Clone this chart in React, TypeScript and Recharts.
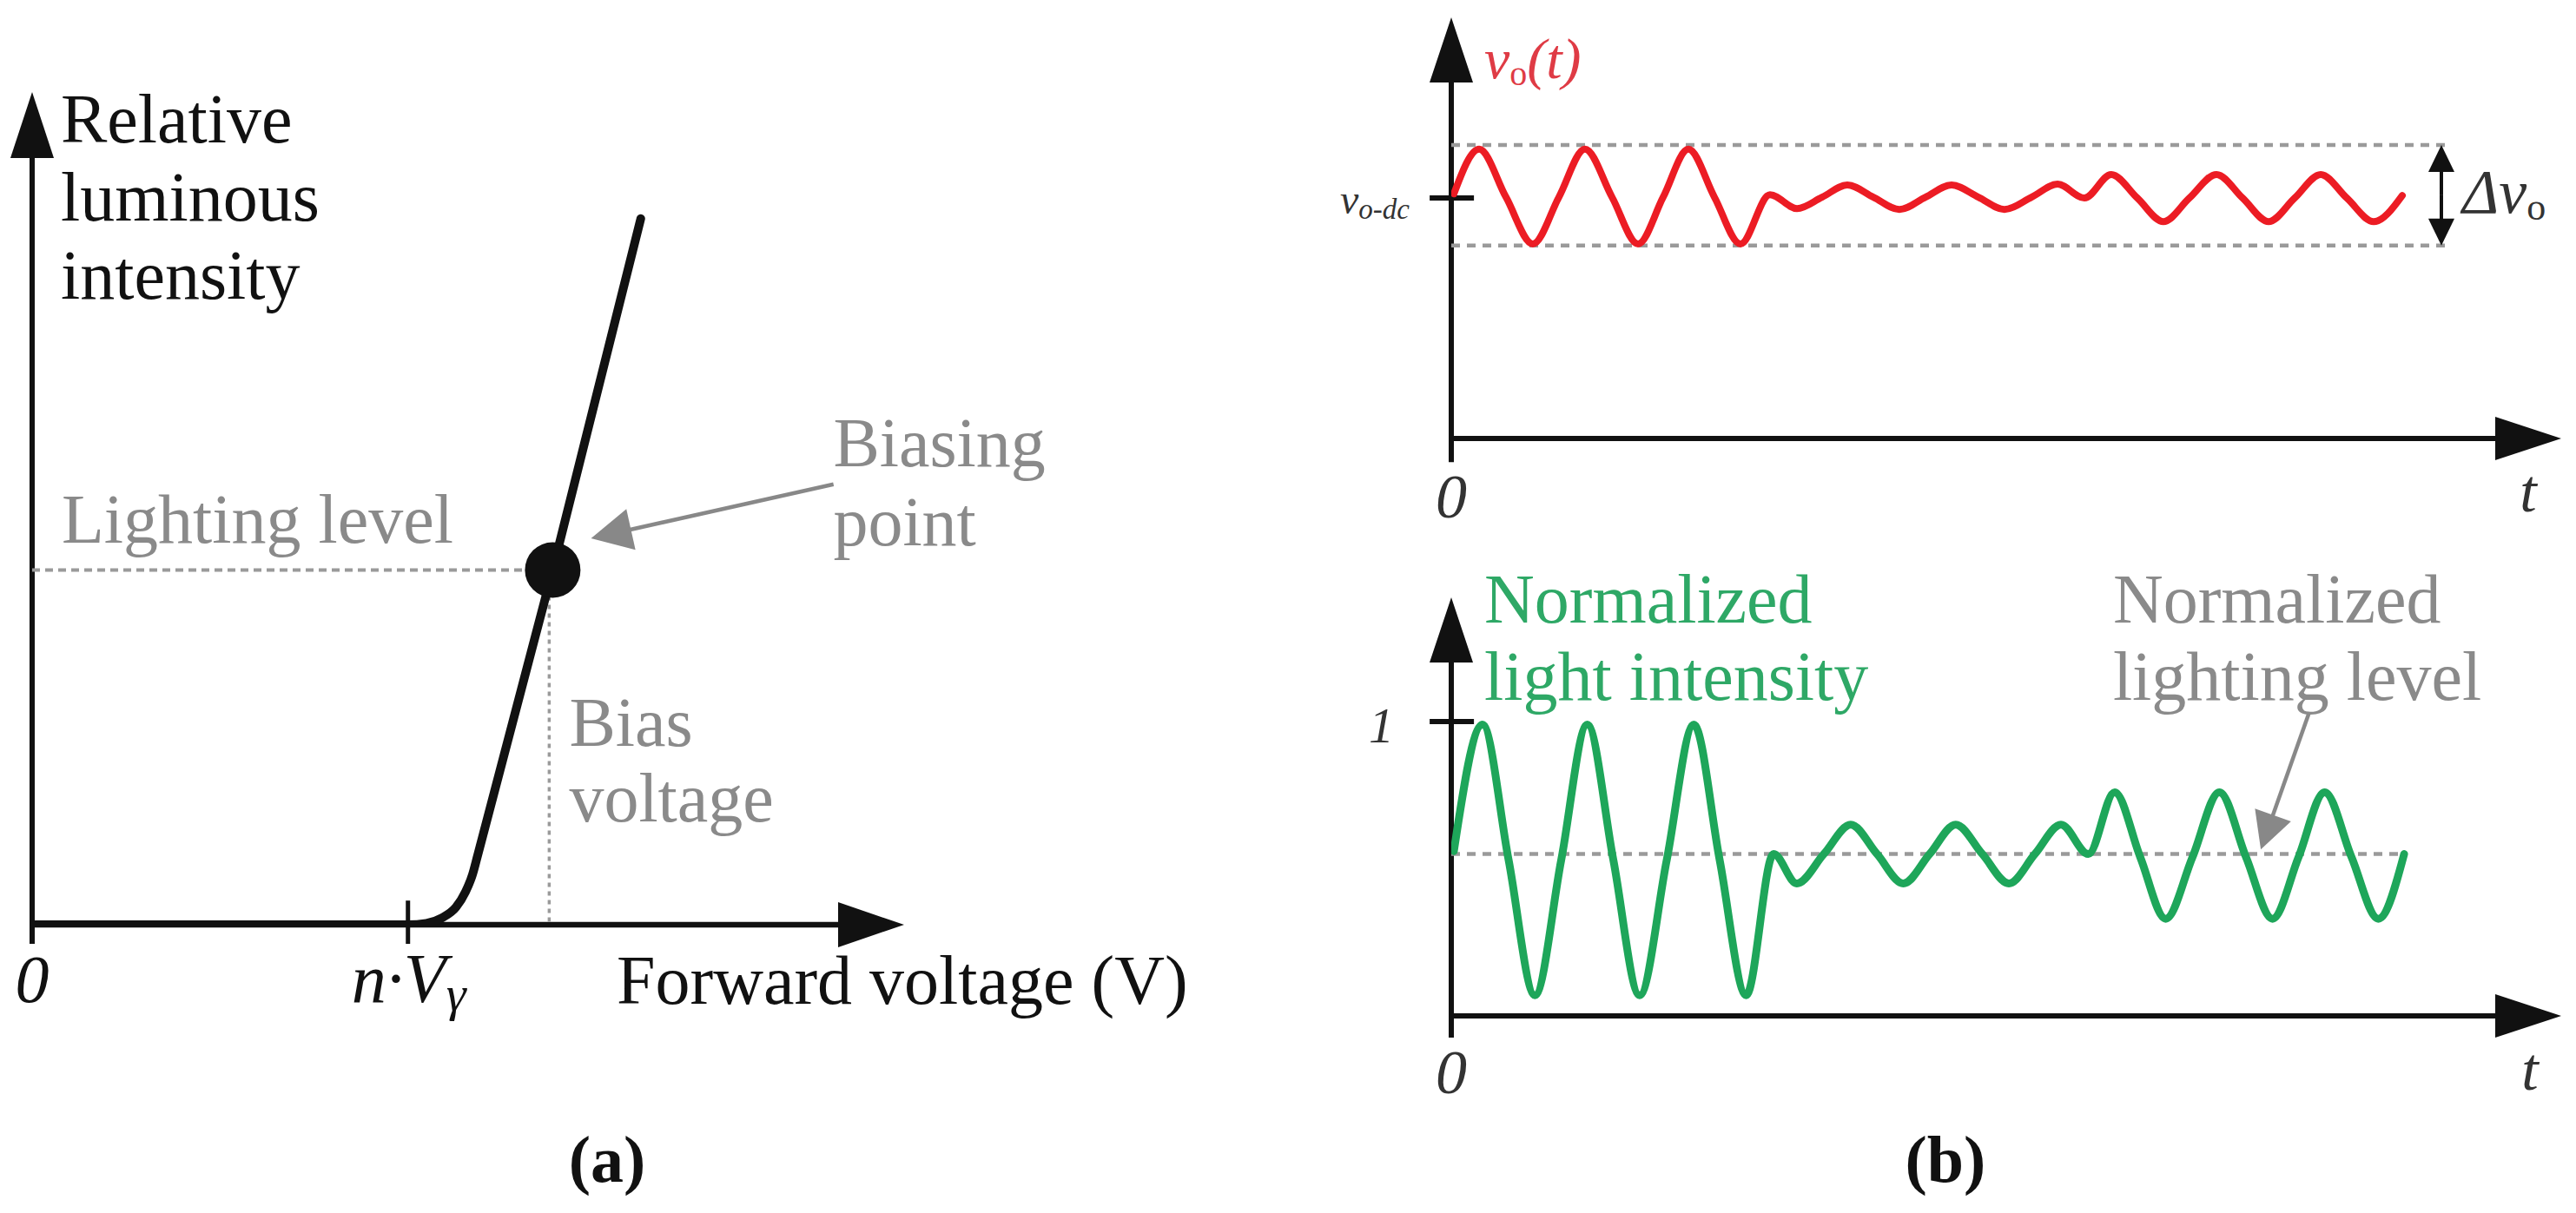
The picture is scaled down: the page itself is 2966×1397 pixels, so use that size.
import React from "react";
import { LineChart, Line, XAxis, YAxis, ReferenceLine, ReferenceDot } from "recharts";

// (a) LED curve: forward voltage vs relative luminous intensity (axis units 0-100)
const fwdVoltage = [0, 43.1, 45.2, 47.0, 48.6, 49.7, 50.5, 51.1, 59.7, 69.8];
const relIntensity = [0, 0, 0.17, 0.83, 2.09, 3.94, 6.03, 8.36, 42.6, 84.8];
const kneeVoltage = 43.1; // n·Vγ
const biasVoltage = 59.6;
const lightingLevel = 42.6;

// (b) top: output voltage v_o(t)
const tRed = [0.1, 1.07, 2.1, 3.13, 4.13, 5.13, 6.17, 7.17, 8.13, 9.1, 10.1, 11.1, 12.23, 13.27, 14.23, 15.2, 16.2, 17.2, 18.2, 19.2, 20.23, 21.23, 22.27, 23.27, 24.3, 25.33, 26.33, 27.33, 28.33, 29.37, 30.37, 31.37, 32.37, 33.37, 34.37, 35.4, 36.5];
const vOut = [5.81, 6.87, 5.73, 4.62, 5.73, 6.87, 5.73, 4.62, 5.73, 6.87, 5.73, 4.62, 5.79, 5.46, 5.73, 6.02, 5.73, 5.44, 5.73, 6.02, 5.73, 5.44, 5.73, 6.04, 5.71, 6.27, 5.71, 5.15, 5.71, 6.27, 5.71, 5.15, 5.71, 6.27, 5.71, 5.15, 5.77];
const vDc = 5.71;
const vHigh = 6.97;
const vLow = 4.58;

// (b) bottom: normalized light intensity
const tGreen = [0.1, 1.2, 2.2, 3.21, 4.22, 5.22, 6.22, 7.23, 8.27, 9.31, 10.3, 11.32, 12.37, 13.26, 14.3, 15.33, 16.34, 17.35, 18.36, 19.36, 20.38, 21.4, 22.4, 23.4, 24.45, 25.46, 26.44, 27.42, 28.45, 29.48, 30.5, 31.52, 32.52, 33.52, 34.55, 35.58, 36.57];
const normLight = [0.56, 0.99, 0.53, 0.07, 0.53, 0.99, 0.53, 0.07, 0.53, 0.99, 0.53, 0.07, 0.55, 0.45, 0.55, 0.65, 0.55, 0.45, 0.55, 0.65, 0.55, 0.45, 0.55, 0.65, 0.55, 0.76, 0.54, 0.33, 0.54, 0.76, 0.54, 0.33, 0.54, 0.76, 0.54, 0.33, 0.55];
const normLevel = 0.55;

const ledData = fwdVoltage.map((x, i) => ({ x, y: relIntensity[i] }));
const redData = tRed.map((x, i) => ({ x, y: vOut[i] }));
const greenData = tGreen.map((x, i) => ({ x, y: normLight[i] }));

const SERIF = '"Liberation Serif", "Times New Roman", serif';
const INK = "#111";
const GRAY = "#8a8a8a";
const DOT = "#9a9a9a";
const RED = "#ec1c24";
const RED_TXT = "#df3b45";
const GREEN = "#1ea65a";
const GREEN_TXT = "#2ea866";

type NoteStyle = { size: number; color?: string; italic?: boolean; bold?: boolean; anchor?: "start" | "middle" | "end" };

function note(x: number, y: number, dx: number, dy: number, body: React.ReactNode, s: NoteStyle) {
  return (
    <ReferenceDot
      x={x}
      y={y}
      r={0}
      ifOverflow="visible"
      shape={(p: any) => (
        <text
          x={p.cx + dx}
          y={p.cy + dy}
          fontFamily={SERIF}
          fontSize={s.size}
          fill={s.color ?? INK}
          fontStyle={s.italic ? "italic" : "normal"}
          fontWeight={s.bold ? 700 : 400}
          textAnchor={s.anchor ?? "start"}
        >
          {body}
        </text>
      )}
    />
  );
}

function arrowShape(color: string, width: number, len: number, half: number) {
  return (p: any) => {
    const { x1, y1, x2, y2 } = p;
    const L = Math.hypot(x2 - x1, y2 - y1) || 1;
    const ux = (x2 - x1) / L;
    const uy = (y2 - y1) / L;
    const bx = x2 - ux * len;
    const by = y2 - uy * len;
    return (
      <g>
        <line x1={x1} y1={y1} x2={bx + ux * 2} y2={by + uy * 2} stroke={color} strokeWidth={width} />
        <polygon points={`${x2},${y2} ${bx - uy * half},${by + ux * half} ${bx + uy * half},${by - ux * half}`} fill={color} />
      </g>
    );
  };
}

function arrow(from: [number, number], to: [number, number], color: string, width: number, len: number, half: number) {
  return (
    <ReferenceLine
      segment={[{ x: from[0], y: from[1] }, { x: to[0], y: to[1] }]}
      ifOverflow="visible"
      shape={arrowShape(color, width, len, half)}
    />
  );
}

function seg(from: [number, number], to: [number, number], color: string, width: number, dash?: string) {
  return (
    <ReferenceLine
      segment={[{ x: from[0], y: from[1] }, { x: to[0], y: to[1] }]}
      ifOverflow="visible"
      stroke={color}
      strokeWidth={width}
      strokeDasharray={dash}
    />
  );
}

function LedChart() {
  return (
    <LineChart width={1450} height={1397} data={ledData} margin={{ top: 106, right: 409, bottom: 332, left: 37 }}>
      <XAxis type="number" dataKey="x" domain={[0, 100]} allowDataOverflow hide />
      <YAxis type="number" domain={[0, 100]} allowDataOverflow hide />
      {arrow([0, -2.3], [0, 100], INK, 6, 76, 25)}
      {arrow([0, 0], [100, 0], INK, 6.5, 76, 26)}
      {seg([kneeVoltage, -2.3], [kneeVoltage, 2.9], INK, 5)}
      {seg([0, lightingLevel], [biasVoltage, lightingLevel], DOT, 4, "9 6")}
      {seg([biasVoltage - 0.3, lightingLevel], [biasVoltage - 0.3, 0], DOT, 3.5, "5 5")}
      <Line
        type="monotone"
        dataKey="y"
        stroke={INK}
        strokeWidth={10}
        strokeLinecap="round"
        dot={false}
        isAnimationActive={false}
      />
      <ReferenceDot x={biasVoltage + 0.1} y={lightingLevel} r={32} fill={INK} stroke="none" ifOverflow="visible" />
      {arrow([91.9, 52.9], [64.1, 46.4], "#888", 4.5, 47, 24)}
      {note(0, 100, 33, 58, "Relative", { size: 80 })}
      {note(0, 100, 33, 148, "luminous", { size: 80 })}
      {note(0, 100, 33, 238, "intensity", { size: 80 })}
      {note(0, lightingLevel, 34, -31, "Lighting level", { size: 80, color: GRAY })}
      {note(biasVoltage, lightingLevel, 324, -119, "Biasing", { size: 80, color: GRAY })}
      {note(biasVoltage, lightingLevel, 324, -28, "point", { size: 80, color: GRAY })}
      {note(biasVoltage, 0, 20, -206, "Bias", { size: 80, color: GRAY })}
      {note(biasVoltage, 0, 20, -119, "voltage", { size: 80, color: GRAY })}
      {note(0, 0, 0, 89, "0", { size: 78, italic: true, anchor: "middle" })}
      {note(kneeVoltage, 0, 1, 89, <>
        <tspan>n·V</tspan>
        <tspan fontSize={58} dy={10}>γ</tspan>
      </>, { size: 80, italic: true, anchor: "middle" })}
      {note(100, 0, -331, 91, "Forward voltage (V)", { size: 80 })}
      {note(0, 0, 662, 296, "(a)", { size: 76, bold: true, anchor: "middle" })}
    </LineChart>
  );
}

function VoltageChart() {
  return (
    <LineChart width={1466} height={700} data={redData} margin={{ top: 20, right: 17, bottom: 195, left: 171 }}>
      <XAxis type="number" dataKey="x" domain={[0, 42.6]} allowDataOverflow hide />
      <YAxis type="number" domain={[0, 10]} allowDataOverflow hide />
      {arrow([0, -0.56], [0, 10], INK, 6, 75, 25)}
      {arrow([0, 0], [42.6, 0], INK, 6, 76, 25)}
      {seg([-0.83, vDc], [0.87, vDc], INK, 6)}
      {seg([0, vHigh], [38.37, vHigh], DOT, 4.5, "10 8")}
      {seg([0, vLow], [38.37, vLow], DOT, 4.5, "10 8")}
      {arrow([38.0, (vHigh + vLow) / 2], [38.0, vHigh], INK, 4, 31, 15)}
      {arrow([38.0, (vHigh + vLow) / 2], [38.0, vLow], INK, 4, 31, 15)}
      <Line
        type="monotone"
        dataKey="y"
        stroke={RED}
        strokeWidth={8}
        strokeLinecap="round"
        strokeLinejoin="round"
        dot={false}
        isAnimationActive={false}
      />
      {note(0, 10, 38, 70, <>
        <tspan>v</tspan>
        <tspan fontSize={40} dy={8} fontStyle="normal">o</tspan>
        <tspan dy={-8}>(t)</tspan>
      </>, { size: 66, italic: true, color: RED_TXT })}
      {note(0, vDc, -48, 18, <>
        <tspan>v</tspan>
        <tspan fontSize={33} dy={6}>o-dc</tspan>
      </>, { size: 48, italic: true, anchor: "end", color: "#333" })}
      {note(0, 0, 0, 91, "0", { size: 72, italic: true, anchor: "middle", color: "#333" })}
      {note(42.6, 0, -38, 84, "t", { size: 70, italic: true, anchor: "middle", color: "#333" })}
      {note(38.0, (vHigh + vLow) / 2, 24, 20, <>
        <tspan>Δv</tspan>
        <tspan fontSize={44} dy={8} fontStyle="normal">o</tspan>
      </>, { size: 72, italic: true, color: "#333" })}
    </LineChart>
  );
}

function LightChart() {
  return (
    <LineChart width={1466} height={797} data={greenData} margin={{ top: 88, right: 17, bottom: 227, left: 171 }}>
      <XAxis type="number" dataKey="x" domain={[0, 42.6]} allowDataOverflow hide />
      <YAxis type="number" domain={[0, 1.422]} allowDataOverflow hide />
      {arrow([0, -0.074], [0, 1.422], INK, 6, 75, 25)}
      {arrow([0, 0], [42.6, 0], INK, 6, 76, 25)}
      {seg([-0.83, 1], [0.87, 1], INK, 6)}
      {seg([0, normLevel], [36.6, normLevel], DOT, 4.5, "10 8")}
      <Line
        type="monotone"
        dataKey="y"
        stroke={GREEN}
        strokeWidth={9}
        strokeLinecap="round"
        strokeLinejoin="round"
        dot={false}
        isAnimationActive={false}
      />
      {arrow([32.93, 1.032], [31.07, 0.566], "#888", 4.5, 42, 22)}
      {note(0, 1.422, 38, 29, "Normalized", { size: 80, color: GREEN_TXT })}
      {note(0, 1.422, 38, 118, "light intensity", { size: 80, color: GREEN_TXT })}
      {note(32.93, 1.032, -226, -103, "Normalized", { size: 80, color: GRAY })}
      {note(32.93, 1.032, -226, -14, "lighting level", { size: 80, color: GRAY })}
      {note(0, 1, -66, 24, "1", { size: 58, italic: true, anchor: "end", color: "#333" })}
      {note(0, 0, 0, 89, "0", { size: 72, italic: true, anchor: "middle", color: "#333" })}
      {note(42.6, 0, -36, 85, "t", { size: 70, italic: true, anchor: "middle", color: "#333" })}
      {note(0, 0, 569, 191, "(b)", { size: 76, bold: true, anchor: "middle" })}
    </LineChart>
  );
}

export default function App() {
  return (
    <div style={{ position: "absolute", left: 0, top: 0, width: 2966, height: 1397, background: "#fff", overflow: "hidden" }}>
      <div style={{ position: "absolute", left: 0, top: 0 }}>
        <LedChart />
      </div>
      <div style={{ position: "absolute", left: 1500, top: 0 }}>
        <VoltageChart />
      </div>
      <div style={{ position: "absolute", left: 1500, top: 600 }}>
        <LightChart />
      </div>
    </div>
  );
}
